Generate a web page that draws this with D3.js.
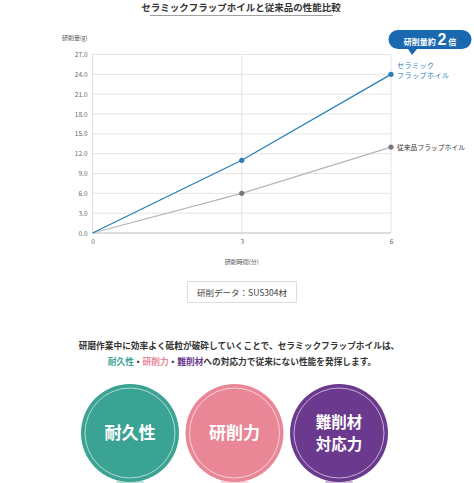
<!DOCTYPE html>
<html><head><meta charset="utf-8">
<script src="https://cdn.jsdelivr.net/npm/d3@7"></script>
<style>
html,body{margin:0;padding:0;background:#fff;}
svg{display:block;font-family:"Noto Sans CJK JP","Noto Sans",sans-serif;}
</style></head><body>
<svg id="c" width="474" height="483"></svg>
<script>
const times = [0, 3, 6];
const ceramic = [0, 11, 24];
const conventional = [0, 6, 13];
const yTicks = [0, 3, 6, 9, 12, 15, 18, 21, 24, 27];
const xTicks = [0, 3, 6];
const seriesNames = ["セラミック|フラップホイル", "従来品フラップホイル"];
const circles = [
  {label: ["耐久性"], color: "#3aa393"},
  {label: ["研削力"], color: "#e98797"},
  {label: ["難削材", "対応力"], color: "#6b3a8e"}
];

const svg = d3.select("#c");
const x = d3.scaleLinear().domain([0, 6]).range([92.5, 391]);
const y = d3.scaleLinear().domain([0, 27]).range([233, 54.5]);

// title
svg.append("text").attr("x", 241).attr("y", 11).attr("text-anchor", "middle")
  .attr("font-size", 9.5).attr("font-weight", 700).attr("fill", "#333")
  .text("セラミックフラップホイルと従来品の性能比較");
svg.append("line").attr("x1", 150).attr("x2", 333).attr("y1", 15.5).attr("y2", 15.5)
  .attr("stroke", "#888").attr("stroke-width", 0.8);

// grid
const g = svg.append("g");
g.selectAll(".hg").data(yTicks).join("line")
  .attr("x1", x(0)).attr("x2", x(6)).attr("y1", d => y(d)).attr("y2", d => y(d))
  .attr("stroke", "#e4e4e4").attr("stroke-width", 1);
g.selectAll(".vg").data(xTicks.slice(1)).join("line")
  .attr("x1", d => x(d)).attr("x2", d => x(d)).attr("y1", y(27)).attr("y2", y(0))
  .attr("stroke", "#e4e4e4").attr("stroke-width", 1);
g.append("line").attr("x1", x(0)).attr("x2", x(0)).attr("y1", y(27)).attr("y2", y(0))
  .attr("stroke", "#ddd");
g.append("line").attr("x1", x(0)).attr("x2", x(6)).attr("y1", y(0)).attr("y2", y(0))
  .attr("stroke", "#ccc");

// axes labels
const yAxis = d3.axisLeft(y).tickValues(yTicks).tickFormat(d3.format(".1f")).tickSize(0).tickPadding(5);
const ya = svg.append("g").attr("transform", `translate(${x(0)},0)`).call(yAxis);
ya.select(".domain").remove();
ya.attr("font-family", null).attr("font-size", null);
ya.selectAll("text").attr("font-size", 6.5).attr("fill", "#666");
const xAxis = d3.axisBottom(x).tickValues(xTicks).tickFormat(d3.format("d")).tickSize(0).tickPadding(6);
const xa = svg.append("g").attr("transform", `translate(0,${y(0)})`).call(xAxis);
xa.select(".domain").remove();
xa.attr("font-family", null).attr("font-size", null);
xa.selectAll("text").attr("font-size", 6.5).attr("fill", "#666");

svg.append("text").attr("x", 62).attr("y", 40).attr("font-size", 6).attr("fill", "#555").text("研削量(g)");
svg.append("text").attr("x", x(3)).attr("y", 264).attr("text-anchor", "middle").attr("font-size", 6).attr("fill", "#555").text("研削時間(分)");

// lines
const line = d3.line().x((d, i) => x(times[i])).y(d => y(d));
svg.append("path").datum(conventional).attr("d", line).attr("fill", "none").attr("stroke", "#b5b5b5").attr("stroke-width", 1.2);
svg.append("path").datum(ceramic).attr("d", line).attr("fill", "none").attr("stroke", "#2a7fb8").attr("stroke-width", 1.3);
svg.selectAll(".pc").data(conventional.slice(1)).join("circle")
  .attr("cx", (d, i) => x(times[i + 1])).attr("cy", d => y(d)).attr("r", 2.6).attr("fill", "#777");
svg.selectAll(".pk").data(ceramic.slice(1)).join("circle")
  .attr("cx", (d, i) => x(times[i + 1])).attr("cy", d => y(d)).attr("r", 2.6).attr("fill", "#2a7fb8");

// series labels
const cl = seriesNames[0].split("|");
const ct = svg.append("text").attr("x", 397).attr("y", 68).attr("font-size", 7).attr("fill", "#2a7fb8").attr("letter-spacing", 0.5);
cl.forEach((t, i) => ct.append("tspan").attr("x", 397).attr("dy", i ? 10 : 0).text(t));
svg.append("text").attr("x", 397).attr("y", y(conventional[2]) + 2.5).attr("font-size", 6.8).attr("fill", "#333").text(seriesNames[1]);

// badge
svg.append("path").attr("d", "M 398 30 H 462 A 9.5 9.5 0 0 1 462 49 H 417 L 412 55 L 408 49 H 398 A 9.5 9.5 0 0 1 398 30 Z").attr("fill", "#1a69b0");
const bt = svg.append("text").attr("x", 430).attr("y", 44.5).attr("text-anchor", "middle").attr("fill", "#fff").attr("font-weight", 700);
bt.append("tspan").attr("font-size", 8).text("研削量約 ");
bt.append("tspan").attr("font-size", 16).attr("font-family", "Liberation Sans, Arial, sans-serif").text("2");
bt.append("tspan").attr("font-size", 8).text(" 倍");

// data box
svg.append("rect").attr("x", 187.5).attr("y", 281.5).attr("width", 109).attr("height", 21).attr("fill", "#fff").attr("stroke", "#ddd");
svg.append("text").attr("x", 242).attr("y", 295.5).attr("text-anchor", "middle").attr("font-size", 8.5).attr("fill", "#444").text("研削データ：SUS304材");

// paragraph
svg.append("text").attr("x", 239).attr("y", 349).attr("text-anchor", "middle").attr("font-size", 8.7).attr("font-weight", 700).attr("fill", "#333")
  .text("研磨作業中に効率よく砥粒が破砕していくことで、セラミックフラップホイルは、");
const p2 = svg.append("text").attr("x", 242).attr("y", 365).attr("text-anchor", "middle").attr("font-size", 8.7).attr("font-weight", 700).attr("fill", "#333");
p2.append("tspan").attr("fill", circles[0].color).text("耐久性");
p2.append("tspan").text("・");
p2.append("tspan").attr("fill", circles[1].color).text("研削力");
p2.append("tspan").text("・");
p2.append("tspan").attr("fill", circles[2].color).text("難削材");
p2.append("tspan").text("への対応力で従来にない性能を発揮します。");

// circles
const cx = d3.scalePoint().domain(circles.map((d, i) => i)).range([130, 339]);
const cg = svg.selectAll(".cg").data(circles).join("g").attr("transform", (d, i) => `translate(${cx(i)},433)`);
cg.append("ellipse").attr("cx", 0).attr("cy", 49).attr("rx", 14).attr("ry", 3).attr("fill", d => d.color).attr("opacity", 0.35);
cg.append("circle").attr("r", 49).attr("fill", d => d.color);
cg.append("circle").attr("r", 45).attr("fill", "none").attr("stroke", "#fff").attr("stroke-opacity", 0.75).attr("stroke-width", 0.8);
cg.each(function(d) {
  const n = d.label.length;
  const fs = n > 1 ? 15.5 : 17;
  const t = d3.select(this).append("text").attr("text-anchor", "middle").attr("font-size", fs)
    .attr("font-weight", 700).attr("fill", "#fff");
  d.label.forEach((s, i) => {
    t.append("tspan").attr("x", 0).attr("y", (i - (n - 1) / 2) * 22.6 + 6).text(s);
  });
});
</script>
</body></html>
